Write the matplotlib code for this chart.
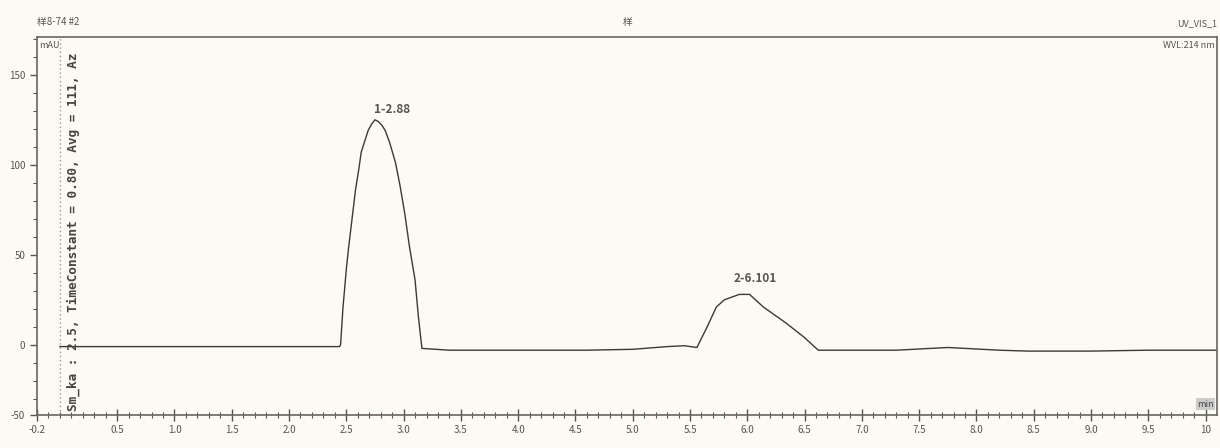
import numpy as np
import matplotlib
matplotlib.use("Agg")
import matplotlib.pyplot as plt

plt.rcParams['font.family'] = ['Noto Sans CJK SC', 'DejaVu Sans']

# trace (time in min, signal in mAU)
time_min = [0.0, 1.0, 2.0, 2.44, 2.45, 2.47, 2.50, 2.52, 2.55, 2.58, 2.61, 2.63,
            2.66, 2.69, 2.72, 2.75, 2.78, 2.81, 2.84, 2.88, 2.93, 2.97, 3.01,
            3.05, 3.10, 3.13, 3.16, 3.4, 4.0, 4.6, 5.0, 5.3, 5.45, 5.56, 5.65,
            5.73, 5.80, 5.93, 6.02, 6.14, 6.34, 6.49, 6.62, 7.0, 7.3, 7.6, 7.75,
            7.9, 8.2, 8.45, 9.0, 9.5, 10.1]
signal = [-1, -1, -1, -1, 0, 20, 42, 54, 70, 86, 98, 107,
          113, 119, 122.5, 125, 124, 122, 119, 112, 101, 88, 73,
          55, 36, 15, -2, -3, -3, -3, -2.5, -1, -0.5, -1.5, 10,
          21, 25, 28, 28, 21, 12, 4.5, -3, -3, -3, -2, -1.5,
          -2, -3, -3.5, -3.5, -3, -3]

peak_labels = ["1-2.88", "2-6.101"]
peak_t = [2.9, 6.07]
peak_y = [127, 33]

xtick_vals = [-0.2] + list(np.arange(0.5, 10.01, 0.5))
xtick_text = ["-0.2"] + ["%.1f" % v for v in np.arange(0.5, 9.51, 0.5)] + ["10"]
ytick_vals = [-39, 0, 50, 100, 150]
ytick_text = ["-50", "0", "50", "100", "150"]

bg = '#fdf9f3'
grey = '#555555'

fig = plt.figure(figsize=(12.2, 4.48), dpi=100, facecolor=bg)
ax = fig.add_axes([37/1220, 33/448, 1180/1220, 378/448])
ax.set_facecolor(bg)

ax.plot(time_min, signal, color='#3a3a3a', lw=1.0)
ax.axvline(0.0, color='#999999', lw=1, ls=(0, (1, 2)))

ax.set_xlim(-0.2, 10.1)
ax.set_ylim(-39, 171)

ax.set_xticks(xtick_vals)
ax.set_xticklabels(xtick_text, fontsize=7, color=grey)
ax.set_xticks(np.arange(-0.1, 10.05, 0.1), minor=True)
ax.set_yticks(ytick_vals)
ax.set_yticklabels(ytick_text, fontsize=7, color=grey)
ax.set_yticks(np.arange(-30, 171, 10), minor=True)
ax.tick_params(axis='x', which='major', direction='inout', length=8, width=1, colors=grey)
ax.tick_params(axis='x', which='minor', direction='inout', length=5, width=0.8, colors=grey)
ax.tick_params(axis='y', which='major', direction='out', length=5, width=1, colors=grey)
ax.tick_params(axis='y', which='minor', direction='out', length=3, width=0.8, colors=grey)
for s in ax.spines.values():
    s.set_color('#666666')
    s.set_linewidth(1.2)

for lab, t, y in zip(peak_labels, peak_t, peak_y):
    ax.text(t, y, lab, ha='center', va='bottom', fontsize=8.5,
            fontweight='bold', color='#555555')

ax.text(0.06, -37, "Sm_ka : 2.5, TimeConstant = 0.80, Avg = 111, Az",
        rotation=90, ha='left', va='bottom', fontsize=9.2, color='#444444',
        family='DejaVu Sans Mono', fontweight='bold')

fig.text(37/1220, 1 - 22/448, "样8-74 #2", fontsize=7, color=grey, ha='left', va='center')
fig.text(39/1220, 1 - 45/448, "mAU", fontsize=6.5, color=grey, ha='left', va='center')
fig.text(628/1220, 1 - 22/448, "样", fontsize=7, color=grey, ha='center', va='center')
fig.text(1217/1220, 1 - 24/448, "UV_VIS_1", fontsize=6.5, color=grey, ha='right', va='center')
fig.text(1215/1220, 1 - 45/448, "WVL:214 nm", fontsize=6.5, color=grey, ha='right', va='center')
ax.text(10.07, -33, "min", fontsize=6.5, color='#444444', ha='right', va='center',
        bbox=dict(facecolor='#cccccc', edgecolor='none', pad=1))

fig.savefig("out.png", dpi=100, facecolor=bg)
